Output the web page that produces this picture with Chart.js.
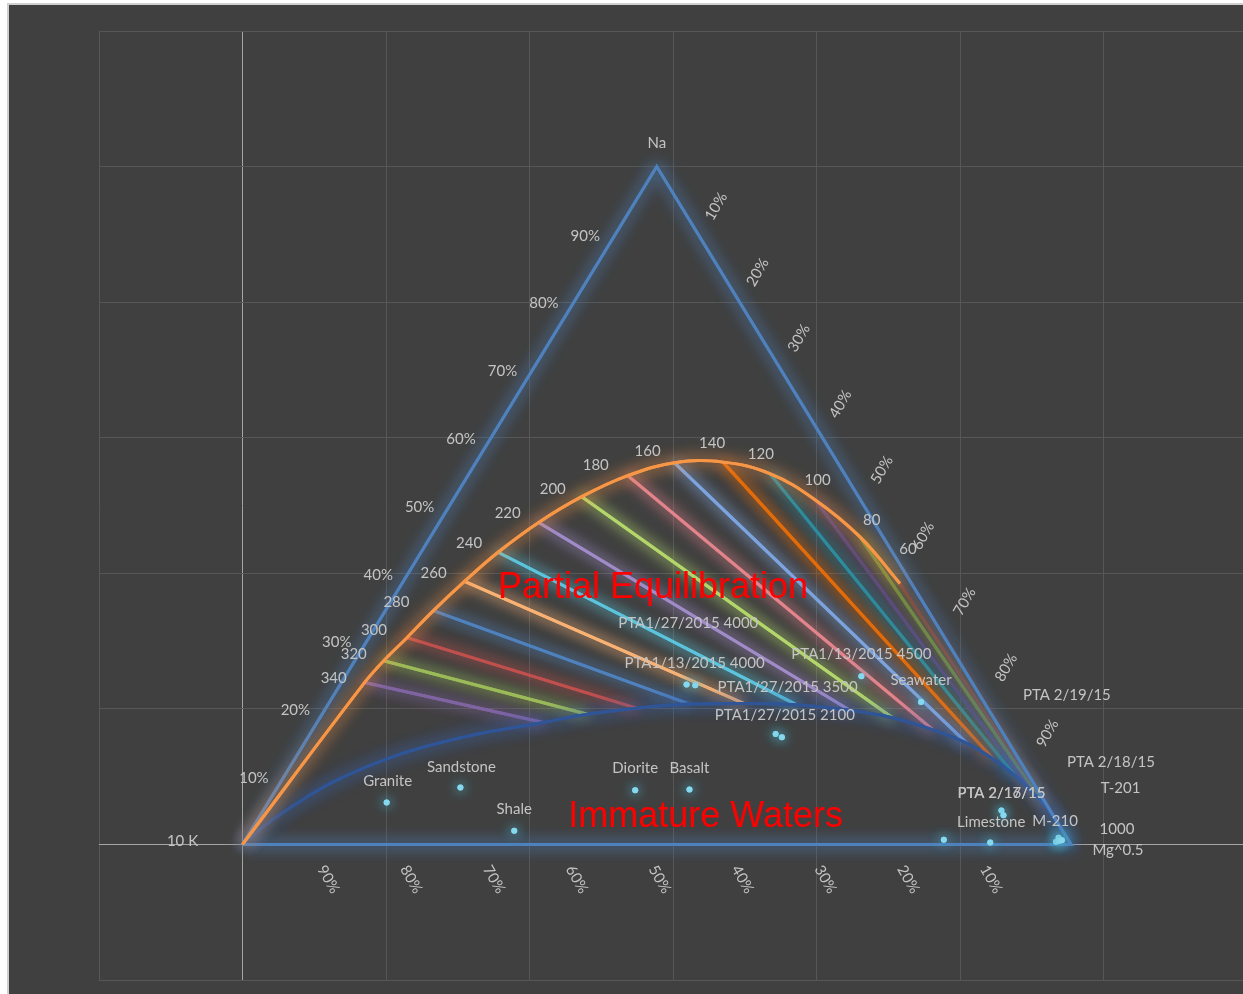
<!DOCTYPE HTML>
<html>
<head>
  <title>Na-K-Mg Ternary Diagram</title>
  <meta name="viewport" content="width=device-width, initial-scale=1">
  <script src="https://cdn.jsdelivr.net/npm/chart.js"></script>
  <style>
    html, body { margin: 0; padding: 0; background: #ffffff; overflow: hidden; }
    .frame { position: absolute; left: 7px; top: 3px; width: 1300px; height: 1100px;
             background: #404040; border-left: 2px solid #d0d0d0; border-top: 2px solid #d0d0d0; }
    canvas { position: absolute; left: 0; top: 0; }
  </style>
</head>
<body>
  <div class="frame"></div>
  <canvas id="chart" width="1260" height="994"></canvas>
  <script>
    // Compositions are in percent of Na / K / Mg (K = 100 - Na - Mg)

    // full equilibrium curve
    const temps = [340, 320, 300, 280, 260, 240, 220, 200, 180, 160, 140, 120, 100, 80, 60];
    const eqNa = [23.9, 27.1, 30.5, 34.5, 38.8, 43.1, 47.5, 51.3, 54.4, 56.3, 56.4, 54.7, 50.9, 45.4, 38.5];
    const eqMg = [2.8, 3.5, 4.6, 5.8, 7.4, 9.3, 12.0, 15.3, 19.3, 24.0, 29.8, 36.3, 43.6, 51.8, 60.1];

    // where each Na/K isotherm meets the immature waters line
    const endNa = [18.0, 19.2, 20.1, 20.7, 20.8, 20.6, 19.8, 18.7, 16.9, 14.9, 12.6, 10.2, 8.0, 6.5, 5.5];
    const endMg = [27.3, 32.0, 37.5, 43.6, 50.1, 56.6, 63.4, 69.1, 74.9, 80.0, 84.3, 88.1, 91.1, 93.1, 94.3];

    // start of the immature waters line, from the K corner
    const immNa = [0, 2.6, 6.0, 9.0, 13.1, 15.8];
    const immMg = [0, 1.2, 3.5, 6.1, 12.0, 18.7];

    // rocks and water samples
    const sampleNames = ['Granite', 'Sandstone', 'Shale', 'Diorite', 'Basalt',
      'PTA1/27/2015 4000', 'PTA1/13/2015 4000', 'PTA1/13/2015 4500', 'Seawater',
      'PTA1/27/2015 3500', 'PTA1/27/2015 2100', 'PTA 2/16/15', 'PTA 2/17/15',
      'Limestone', '', 'M-210', 'T-201', 'PTA 2/18/15', 'PTA 2/19/15'];
    const sampleNa = [6.2, 8.4, 2.0, 8.0, 8.1, 23.5, 23.6, 24.8, 21.0, 16.3, 15.8, 5.0, 4.3, 0.3, 0.7, 0.4, 1.0, 0.5, 0.6];
    const sampleMg = [14.3, 22.1, 31.8, 43.4, 49.9, 42.9, 41.8, 62.3, 71.4, 56.2, 57.2, 89.1, 89.7, 90.1, 84.3, 98.0, 98.0, 98.3, 98.6];

    const tickPct = [10, 20, 30, 40, 50, 60, 70, 80, 90];

    // styling
    const lineColors = ['#8064A2', '#9BBB59', '#C0504D', '#4F81BD', '#F9B274', '#5BC4DC', '#A08BC8',
      '#B3D66B', '#E3838C', '#7DA3DE', '#E26B0A', '#2E8B9E', '#604A7B', '#77933C', '#943634'];
    const tempShift = [[-31, -4], [-30, -7], [-33, -8], [-37, -8], [-31, -8], [-29, -9], [-31, -9],
      [-29, -8], [-32, -11], [-27, -12], [-11, -19], [-9, -19], [3, -19], [12, -17], [8, -34]];
    const sampleShift = [[1, -21], [1, -20], [0, -22], [0, -22], [0, -21], [-7, -62], [8, -21], [0, -22],
      [0, -22], [12, -47], [3, -22], [0, -17], [-2, -22], [1, -20], [0, 0], [-1, -21], [62, -49], [52, -79], [5, -145]];
    const TEXT = '#c4c4c4';

    const SIDE = 100 / Math.sqrt(3);
    function tern(na, mg) {
      return { x: (mg + na / 2) / 100 * SIDE, y: na / 2 };
    }

    const datasets = [];

    datasets.push({
      label: 'samples',
      data: sampleNa.map((na, i) => tern(na, sampleMg[i])),
      showLine: false,
      pointRadius: 3,
      pointBorderWidth: 0,
      pointBackgroundColor: '#86d8ee',
      glow: 'rgba(75,172,198,1)', glowBlur: 12,
      order: 0
    });

    datasets.push({
      label: 'full equilibrium',
      data: [tern(0, 0)].concat(eqNa.map((na, i) => tern(na, eqMg[i]))),
      showLine: true,
      borderColor: '#F79646',
      borderWidth: 3,
      pointRadius: 0,
      tension: 0.4,
      glow: 'rgba(247,150,70,0.9)', glowBlur: 16,
      order: 1
    });

    datasets.push({
      label: 'triangle',
      data: [tern(0, 0), tern(100, 0), tern(0, 100), tern(0, 0)],
      showLine: true,
      borderColor: '#4F81BD',
      borderWidth: 3,
      pointRadius: 0,
      borderJoinStyle: 'miter',
      glow: 'rgba(79,129,189,1)', glowBlur: 16,
      order: 2
    });

    datasets.push({
      label: 'immature waters',
      data: immNa.map((na, i) => tern(na, immMg[i]))
        .concat(endNa.map((na, i) => tern(na, endMg[i])))
        .concat([tern(0, 100)]),
      showLine: true,
      borderColor: '#2F5597',
      borderWidth: 3,
      pointRadius: 0,
      cubicInterpolationMode: 'monotone',
      glow: 'rgba(55,100,180,1)', glowBlur: 16,
      order: 3
    });

    temps.forEach((t, i) => {
      datasets.push({
        label: t + ' C',
        data: [tern(eqNa[i], eqMg[i]), tern(endNa[i], endMg[i])],
        showLine: true,
        borderColor: lineColors[i],
        borderWidth: 3,
        pointRadius: 0,
        glow: lineColors[i], glowBlur: 14,
        order: 4
      });
    });

    // soft glow round every series: shadowed draw, then a second pass to deepen it
    const glowPlugin = {
      id: 'glow',
      beforeDatasetDraw(chart, args) {
        const ds = chart.data.datasets[args.index];
        chart.ctx.save();
        chart.ctx.shadowColor = ds.glow || 'transparent';
        chart.ctx.shadowBlur = ds.glowBlur || 0;
      },
      afterDatasetDraw(chart, args) {
        const ds = chart.data.datasets[args.index];
        if (ds.glow) {
          args.meta.controller.draw();
        }
        chart.ctx.restore();
      }
    };

    const textPlugin = {
      id: 'ternText',
      afterDatasetsDraw(chart) {
        const { ctx } = chart;
        const sx = chart.scales.x, sy = chart.scales.y;
        const at = (na, mg) => {
          const p = tern(na, mg);
          return [sx.getPixelForValue(p.x), sy.getPixelForValue(p.y)];
        };
        const rotated = (text, x, y, angle) => {
          ctx.save();
          ctx.translate(x, y);
          ctx.rotate(angle);
          ctx.fillText(text, 0, 0);
          ctx.restore();
        };

        ctx.save();
        ctx.fillStyle = TEXT;
        ctx.font = '15px Lato';
        ctx.textAlign = 'center';
        ctx.textBaseline = 'middle';

        // percent scales along the three sides
        tickPct.forEach((p, i) => {
          let [x, y] = at(p, 0);
          ctx.fillText(p + '%', x - 30, y + 1.5);
          [x, y] = at(100 - p, p);
          rotated(p + '%', x + 18, y - 28 - 1.9 * i, -Math.PI / 3);
          [x, y] = at(0, p);
          rotated((100 - p) + '%', x + 3, y + 35, Math.PI / 3);
        });

        // corner names
        let [x, y] = at(100, 0);
        ctx.fillText('Na', x, y - 23);
        [x, y] = at(0, 0);
        ctx.fillText('10 K', x - 60, y - 3);
        [x, y] = at(0, 100);
        ctx.fillText('1000', x + 46, y - 15);
        ctx.fillText('Mg^0.5', x + 47, y + 6);

        // isotherm temperatures
        temps.forEach((t, i) => {
          const [tx, ty] = at(eqNa[i], eqMg[i]);
          ctx.fillText(String(t), tx + tempShift[i][0], ty + tempShift[i][1]);
        });

        // sample names
        sampleNames.forEach((name, i) => {
          if (!name) return;
          const [nx, ny] = at(sampleNa[i], sampleMg[i]);
          ctx.fillText(name, nx + sampleShift[i][0], ny + sampleShift[i][1]);
        });

        // field names
        ctx.fillStyle = '#ff0000';
        ctx.font = '36px "Liberation Sans"';
        ctx.textAlign = 'left';
        ctx.textBaseline = 'alphabetic';
        ctx.fillText('Partial Equilibration', sx.getPixelForValue(17.8), sy.getPixelForValue(18.2));
        ctx.fillText('Immature Waters', sx.getPixelForValue(22.7), sy.getPixelForValue(1.25));
        ctx.restore();
      }
    };

    const gridColor = c => (c.tick && c.tick.value === 0 ? '#a6a6a6' : '#575757');

    new Chart(document.getElementById('chart'), {
      type: 'scatter',
      data: { datasets },
      options: {
        responsive: false,
        animation: false,
        events: [],
        layout: { padding: { left: 99, top: 31, right: 13, bottom: 14 } },
        plugins: { legend: { display: false }, tooltip: { enabled: false } },
        scales: {
          x: {
            type: 'linear', min: -10, max: 70,
            ticks: { stepSize: 10, display: false },
            grid: { color: gridColor, drawTicks: false },
            border: { display: false },
            afterFit: s => { s.height = 0; }
          },
          y: {
            type: 'linear', min: -10, max: 60,
            ticks: { stepSize: 10, display: false },
            grid: { color: gridColor, drawTicks: false },
            border: { display: false },
            afterFit: s => { s.width = 0; }
          }
        }
      },
      plugins: [glowPlugin, textPlugin]
    });
  </script>
</body>
</html>
